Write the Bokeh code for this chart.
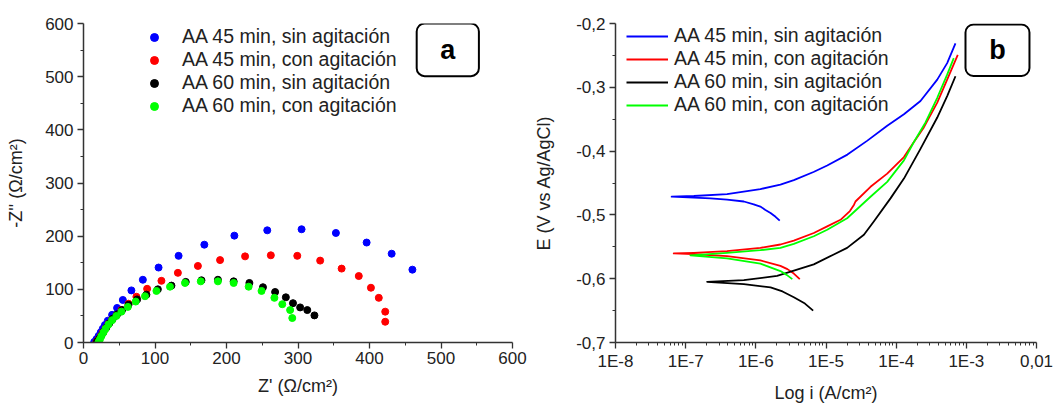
from bokeh.plotting import figure
from bokeh.layouts import row
from bokeh.models import (Legend, LegendItem, FixedTicker, CustomJSTickFormatter,
                          BoxAnnotation, Label, Range1d)
from bokeh.embed import file_html
from bokeh.resources import INLINE

# ---------------- data: (a) Nyquist ----------------
labels = ["AA 45 min, sin agitación", "AA 45 min, con agitación",
          "AA 60 min, sin agitación", "AA 60 min, con agitación"]
colors = ["#0000FF", "#FF0000", "#000000", "#00FF00"]

zre_45_sin = [15, 18, 21, 24, 27, 30, 34, 40, 47, 55, 67, 83, 105, 133, 169, 211, 257, 305, 353, 396, 431, 460]
zim_45_sin = [1, 6, 12, 19, 26, 33, 41, 52, 65, 80, 98, 118, 141, 163, 184, 201, 211, 213, 206, 188, 167, 137]

zre_45_con = [18, 21, 24, 27, 31, 35, 40, 46, 53, 63, 74, 89, 109, 132, 160, 191, 226, 262, 299, 331, 361, 385, 402, 413, 422, 422]
zim_45_con = [1, 6, 12, 19, 27, 35, 43, 51, 61, 73, 86, 101, 116, 131, 144, 155, 162, 164, 163, 154, 139, 125, 103, 84, 58, 39]

zre_60_sin = [19, 22, 25, 28, 32, 36, 41, 47, 54, 63, 75, 88, 104, 123, 143, 165, 188, 210, 232, 251, 268, 283, 293, 303, 313, 323]
zim_60_sin = [2, 7, 13, 20, 28, 36, 45, 53, 61, 71, 81, 90, 100, 107, 114, 117, 118, 115, 112, 104, 95, 85, 74, 66, 61, 51]

zre_60_con = [21, 23, 25, 28, 31, 35, 40, 46, 53, 62, 73, 86, 102, 121, 142, 164, 188, 210, 231, 249, 267, 278, 289, 292]
zim_60_con = [1, 6, 12, 19, 26, 34, 42, 50, 58, 67, 77, 87, 97, 105, 112, 115, 115, 112, 105, 97, 84, 72, 61, 46]

nyq_ticks = [0, 100, 200, 300, 400, 500, 600]

# ---------------- data: (b) Tafel (|i| in A/cm2, E in V vs Ag/AgCl) ----------------
i_45_sin = [2.19e-6, 1.91e-6, 1.62e-6, 1.37e-6, 1.16e-6, 9.33e-7, 6.75e-7, 3.89e-7, 2.26e-7, 6.31e-8,
            1.31e-7, 3.89e-7, 1.16e-6, 2.24e-6, 3.48e-6, 6.64e-6, 1.04e-5, 2.02e-5, 3.89e-5,
            7.45e-5, 1.29e-4, 2.22e-4, 3.85e-4, 5.33e-4, 7.0e-4]
e_45_sin = [-0.509, -0.503, -0.497, -0.4922, -0.487, -0.4834, -0.479, -0.4761, -0.474, -0.4715,
            -0.4704, -0.4673, -0.4596, -0.4524, -0.4456, -0.4327, -0.4225, -0.4055, -0.3836,
            -0.3603, -0.3423, -0.3215, -0.288, -0.2621, -0.231]

i_45_con = [4.23e-6, 3.48e-6, 2.82e-6, 2.24e-6, 1.16e-6, 3.89e-7, 1.26e-7, 6.76e-8,
            1.31e-7, 3.89e-7, 1.16e-6, 2.24e-6, 3.48e-6, 6.70e-6, 1.04e-5, 1.61e-5, 2.19e-5,
            2.51e-5, 2.63e-5, 4.31e-5, 7.45e-5, 1.29e-4, 1.78e-4, 2.48e-4, 3.85e-4, 5.33e-4, 7.55e-4]
e_45_con = [-0.6007, -0.592, -0.585, -0.580, -0.5713, -0.5646, -0.5615, -0.5604,
            -0.5594, -0.5568, -0.5517, -0.5464, -0.5402, -0.5284, -0.518, -0.5077, -0.494,
            -0.484, -0.479, -0.456, -0.4353, -0.4094, -0.3862, -0.3629, -0.3241, -0.288, -0.2492]

i_60_sin = [6.56e-6, 5.01e-6, 3.48e-6, 2.40e-6, 1.62e-6, 6.75e-7, 2.02e-7,
            6.75e-7, 2.01e-6, 6.70e-6, 1.29e-5, 2.00e-5, 3.47e-5, 4.80e-5, 8.30e-5, 1.29e-4,
            2.22e-4, 3.85e-4, 5.33e-4, 7.0e-4]
e_60_sin = [-0.650, -0.639, -0.629, -0.620, -0.6137, -0.6085, -0.6049,
            -0.6023, -0.5956, -0.5775, -0.562, -0.5517, -0.531, -0.5103, -0.4741, -0.4431,
            -0.3966, -0.3474, -0.3137, -0.2827]

i_60_con = [3.31e-6, 2.75e-6, 2.24e-6, 1.16e-6, 3.89e-7, 1.17e-7,
            3.89e-7, 1.16e-6, 2.24e-6, 3.48e-6, 6.70e-6, 1.04e-5, 2.00e-5, 4.31e-5, 7.45e-5,
            1.29e-4, 1.78e-4, 2.62e-4, 3.85e-4, 5.33e-4, 6.62e-4]
e_60_con = [-0.6007, -0.594, -0.588, -0.5765, -0.5682, -0.5635,
            -0.5594, -0.5553, -0.5517, -0.5454, -0.5335, -0.5232, -0.5052, -0.4715, -0.4482,
            -0.4146, -0.3862, -0.3551, -0.3164, -0.2802, -0.2543]

tafel_x_ticks = [1e-8, 1e-7, 1e-6, 1e-5, 1e-4, 1e-3, 1e-2]
tafel_y_ticks = [-0.7, -0.6, -0.5, -0.4, -0.3, -0.2]

FONT = "Liberation Sans"
TXT = "#222222"


def style_axes(p):
    for ax in (p.xaxis[0], p.yaxis[0]):
        ax.axis_line_width = 1.5
        ax.axis_line_color = "#333333"
        ax.major_tick_line_color = "#333333"
        ax.minor_tick_line_color = "#333333"
        ax.major_tick_line_width = 1.3
        ax.major_tick_out = 6
        ax.major_tick_in = 0
        ax.minor_tick_out = 3
        ax.minor_tick_in = 0
        ax.major_label_text_font = FONT
        ax.major_label_text_font_size = "17px"
        ax.major_label_text_color = TXT
        ax.axis_label_text_font = FONT
        ax.axis_label_text_font_size = "18px"
        ax.axis_label_text_font_style = "normal"
        ax.axis_label_text_color = TXT
    p.xaxis.major_label_standoff = 3
    p.xaxis.axis_label_standoff = 9
    p.yaxis.major_label_standoff = 4
    p.yaxis.axis_label_standoff = 16
    p.xgrid.visible = False
    p.ygrid.visible = False
    p.outline_line_color = None
    p.background_fill_color = "white"
    p.border_fill_color = "white"


# ---------------- figure (a) ----------------
p1 = figure(width=530, height=406, x_range=Range1d(0, 600), y_range=Range1d(0, 600),
            output_backend="svg", toolbar_location=None,
            min_border_left=83, min_border_right=18, min_border_top=23, min_border_bottom=61)
style_axes(p1)
p1.xaxis.ticker = FixedTicker(ticks=nyq_ticks, minor_ticks=[50, 150, 250, 350, 450, 550])
p1.yaxis.ticker = FixedTicker(ticks=nyq_ticks, minor_ticks=[50, 150, 250, 350, 450, 550])
p1.xaxis.axis_label = "Z' (Ω/cm²)"
p1.yaxis.axis_label = "-Z'' (Ω/cm²)"

nyq = [(zre_45_sin, zim_45_sin), (zre_45_con, zim_45_con),
       (zre_60_sin, zim_60_sin), (zre_60_con, zim_60_con)]
items1 = []
for (xs, ys), c, lab in zip(nyq, colors, labels):
    r = p1.scatter(xs, ys, size=7, color=c, line_color=c)
    items1.append(LegendItem(label=lab, renderers=[r]))

leg1 = Legend(items=items1, location=(61, 225), glyph_width=20, glyph_height=20,
              label_height=20, label_standoff=18, spacing=0, padding=0, margin=0,
              border_line_alpha=0, background_fill_alpha=0,
              label_text_font=FONT, label_text_font_size="19.5px", label_text_color=TXT)
p1.add_layout(leg1)

p1.add_layout(BoxAnnotation(left=466, right=553, bottom=501, top=600, fill_alpha=0,
                            line_color="black", line_alpha=1.0, line_width=2, border_radius=8))
p1.add_layout(Label(x=509.5, y=550, text="a", text_align="center", text_baseline="middle",
                    text_font=FONT, text_font_size="27px", text_font_style="bold",
                    text_color="black"))

# ---------------- figure (b) ----------------
p2 = figure(width=530, height=406, x_axis_type="log",
            x_range=Range1d(1e-8, 1e-2), y_range=Range1d(-0.7, -0.2),
            output_backend="svg", toolbar_location=None,
            min_border_left=85, min_border_right=24, min_border_top=20, min_border_bottom=64)
style_axes(p2)
minor_log = [k * 10.0 ** e for e in range(-8, -2) for k in range(2, 10)]
p2.xaxis.ticker = FixedTicker(ticks=tafel_x_ticks, minor_ticks=minor_log)
p2.yaxis.ticker = FixedTicker(ticks=tafel_y_ticks,
                              minor_ticks=[-0.65, -0.55, -0.45, -0.35, -0.25])
p2.xaxis.formatter = CustomJSTickFormatter(
    code="if (tick > 0.005) { return '0,01'; } return '1E' + Math.round(Math.log10(tick));")
p2.yaxis.formatter = CustomJSTickFormatter(code="return tick.toFixed(1).replace('.', ',');")
p2.xaxis.axis_label = "Log i (A/cm²)"
p2.yaxis.axis_label = "E (V vs Ag/AgCl)"
p2.yaxis.axis_label_standoff = 19

taf = [(i_45_sin, e_45_sin), (i_45_con, e_45_con), (i_60_sin, e_60_sin), (i_60_con, e_60_con)]
items2 = []
for (xs, ys), c, lab in zip(taf, colors, labels):
    r = p2.line(xs, ys, line_width=1.8, color=c, line_join="round")
    items2.append(LegendItem(label=lab, renderers=[r]))

leg2 = Legend(items=items2, location=(11, 226), glyph_width=42, glyph_height=20,
              label_height=20, label_standoff=6, spacing=0, padding=0, margin=0,
              border_line_alpha=0, background_fill_alpha=0,
              label_text_font=FONT, label_text_font_size="19.5px", label_text_color=TXT)
p2.add_layout(leg2)

p2.add_layout(BoxAnnotation(left=9.73e-4, right=7.94e-3, bottom=-0.2822, top=-0.2016,
                            fill_alpha=0, line_color="black", line_alpha=1.0, line_width=2,
                            border_radius=8))
p2.add_layout(Label(x=2.78e-3, y=-0.242, text="b", text_align="center", text_baseline="middle",
                    text_font=FONT, text_font_size="27px", text_font_style="bold",
                    text_color="black"))

layout = row(p1, p2)
open("out.html", "w").write(file_html(layout, INLINE))
